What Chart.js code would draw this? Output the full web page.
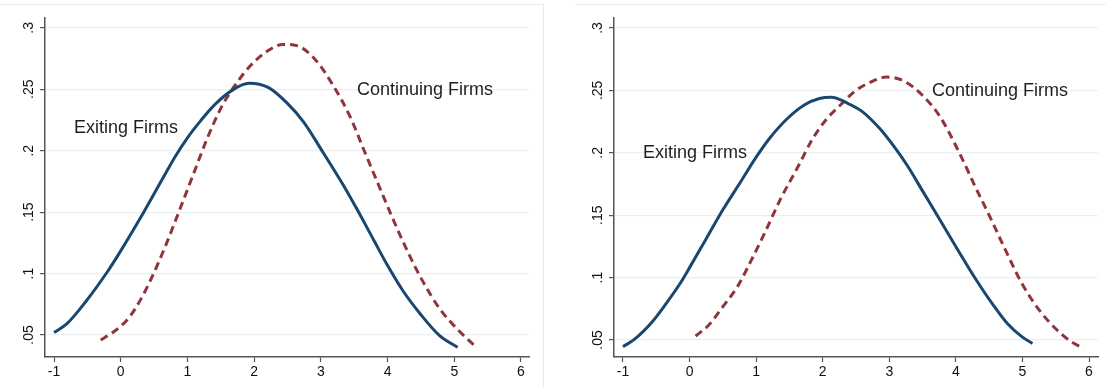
<!DOCTYPE html>
<html>
<head>
<meta charset="utf-8">
<script src="https://cdn.jsdelivr.net/npm/chart.js@4.4.1/dist/chart.umd.min.js"></script>
<style>
  html, body { margin: 0; padding: 0; background: #fff; }
  body { width: 1106px; height: 387px; position: relative; overflow: hidden; }
  #leftBox { position: absolute; left: 0; top: 0; width: 545px; height: 387px; }
  #rightBox { position: absolute; left: 555px; top: 0; width: 551px; height: 387px; }
  .frameTop { position: absolute; top: 4px; height: 1px; background: #e3ecef; }
  .frameSide { position: absolute; top: 4px; width: 1px; height: 383px; background: #e3ecef; }
</style>
</head>
<body>
<div class="frameTop" style="left:0;width:543px"></div>
<div class="frameSide" style="left:543px"></div>
<div class="frameTop" style="left:575px;width:531px"></div>
<div id="leftBox"><canvas id="leftChart" width="545" height="387"></canvas></div>
<div id="rightBox"><canvas id="rightChart" width="551" height="387"></canvas></div>
<script>
// tick values and labels
const xTicks = [-1, 0, 1, 2, 3, 4, 5, 6];
const yTicks = [0.05, 0.1, 0.15, 0.2, 0.25, 0.3];
const yTickLabels = ['.05', '.1', '.15', '.2', '.25', '.3'];

// left panel
const leftExitX = [-1, -0.81, -0.52, -0.2, 0, 0.34, 0.61, 0.82, 1.0, 1.2, 1.41, 1.68, 1.92, 2.21, 2.48, 2.74, 3.0, 3.32, 3.53, 3.8, 3.99, 4.23, 4.5, 4.78, 5.05];
const leftExitY = [0.052, 0.059, 0.0775, 0.1015, 0.1185, 0.1495, 0.1755, 0.1955, 0.2105, 0.2245, 0.2375, 0.2495, 0.2548, 0.2515, 0.2395, 0.2235, 0.2015, 0.1735, 0.1535, 0.1265, 0.1075, 0.086, 0.0665, 0.0495, 0.04];
const leftContX = [-0.3, -0.15, 0, 0.15, 0.3, 0.45, 0.66, 0.87, 1.09, 1.3, 1.51, 1.73, 1.95, 2.21, 2.43, 2.64, 2.91, 3.18, 3.44, 3.65, 3.87, 4.08, 4.3, 4.51, 4.78, 5.05, 5.31];
const leftContY = [0.046, 0.051, 0.057, 0.066, 0.079, 0.095, 0.121, 0.15, 0.181, 0.2105, 0.2355, 0.2545, 0.2695, 0.2815, 0.2865, 0.2855, 0.2745, 0.2535, 0.2275, 0.2, 0.1715, 0.1445, 0.118, 0.0955, 0.0715, 0.0545, 0.041];

// right panel
const rightExitX = [-1, -0.83, -0.56, -0.35, -0.14, 0, 0.24, 0.5, 0.77, 1.0, 1.2, 1.47, 1.73, 1.95, 2.13, 2.37, 2.59, 2.85, 3.07, 3.28, 3.49, 3.76, 4.03, 4.29, 4.56, 4.77, 4.99, 5.15];
const rightExitY = [0.0447, 0.0505, 0.0647, 0.0794, 0.0955, 0.108, 0.1302, 0.1543, 0.177, 0.1965, 0.2115, 0.2275, 0.2385, 0.2435, 0.2445, 0.2398, 0.2332, 0.2198, 0.2051, 0.189, 0.1703, 0.1463, 0.1222, 0.0995, 0.0781, 0.0634, 0.0527, 0.0473];
const rightContX = [0.09, 0.29, 0.5, 0.72, 0.93, 1.15, 1.36, 1.63, 1.84, 2.05, 2.27, 2.48, 2.69, 2.96, 3.23, 3.49, 3.76, 4.03, 4.29, 4.51, 4.72, 4.99, 5.25, 5.52, 5.73, 5.92];
const rightContY = [0.0532, 0.062, 0.0767, 0.0928, 0.1142, 0.1382, 0.1623, 0.189, 0.2104, 0.2265, 0.2385, 0.2492, 0.2559, 0.2607, 0.2572, 0.2465, 0.2291, 0.2024, 0.173, 0.1489, 0.1249, 0.0955, 0.0741, 0.058, 0.0487, 0.0433];

const exitLabel = 'Exiting Firms';
const contLabel = 'Continuing Firms';

const NAVY = '#1a476f';
const MAROON = '#90353b';
const GRID = '#eaf0f2';
const AXIS = '#555555';
const FONT = "'Liberation Sans', Arial, sans-serif";

const toPoints = (xs, ys) => xs.map((x, i) => ({ x: x, y: ys[i] }));

// text labels placed at data coordinates
const curveLabels = {
    id: 'curveLabels',
    afterDatasetsDraw(chart, args, opts) {
        const ctx = chart.ctx;
        const xs = chart.scales.x;
        const ys = chart.scales.y;
        ctx.save();
        ctx.font = '18px ' + FONT;
        ctx.fillStyle = '#1e1e1e';
        ctx.textAlign = 'left';
        ctx.textBaseline = 'middle';
        opts.items.forEach(item => {
            ctx.fillText(item.text, xs.getPixelForValue(item.x), ys.getPixelForValue(item.y));
        });
        ctx.restore();
    }
};

function makePanel(canvasId, exitX, exitY, contX, contY, range, items, yWidth, rightPad) {
    const config = {
        type: 'scatter',
        data: {
            datasets: [{
                label: exitLabel,
                data: toPoints(exitX, exitY),
                showLine: true,
                borderColor: NAVY,
                borderWidth: 3,
                pointRadius: 0,
                cubicInterpolationMode: 'monotone',
            }, {
                label: contLabel,
                data: toPoints(contX, contY),
                showLine: true,
                borderColor: MAROON,
                borderWidth: 3,
                borderDash: [8, 5],
                pointRadius: 0,
                cubicInterpolationMode: 'monotone',
            }]
        },
        options: {
            responsive: false,
            animation: false,
            layout: { padding: { left: 0, right: rightPad, top: 18, bottom: 0 } },
            scales: {
                x: {
                    type: 'linear',
                    min: range.xMin,
                    max: range.xMax,
                    afterBuildTicks: s => { s.ticks = xTicks.map(v => ({ value: v })); },
                    afterFit: s => { s.height = 30; },
                    grid: {
                        drawOnChartArea: false,
                        tickColor: AXIS,
                        tickLength: 5,
                        tickWidth: 1.2,
                    },
                    border: { color: AXIS, width: 1.5 },
                    ticks: {
                        color: '#111',
                        font: { family: FONT, size: 14 },
                        padding: 2,
                        maxRotation: 0,
                    }
                },
                y: {
                    type: 'linear',
                    min: range.yMin,
                    max: range.yMax,
                    afterBuildTicks: s => { s.ticks = yTicks.map(v => ({ value: v })); },
                    afterFit: s => { s.width = yWidth; },
                    grid: {
                        color: GRID,
                        lineWidth: 1.2,
                        tickColor: AXIS,
                        tickLength: 5,
                        tickWidth: 1.2,
                    },
                    border: { color: AXIS, width: 1.5 },
                    ticks: {
                        color: '#111',
                        font: { family: FONT, size: 14 },
                        minRotation: 90,
                        maxRotation: 90,
                        crossAlign: 'center',
                        padding: 1,
                        callback: function (value) {
                            const i = yTicks.indexOf(value);
                            return i >= 0 ? yTickLabels[i] : '';
                        }
                    }
                }
            },
            plugins: {
                legend: { display: false },
                tooltip: { enabled: false },
                curveLabels: { items: items },
            }
        },
        plugins: [curveLabels]
    };
    return new Chart(document.getElementById(canvasId), config);
}

makePanel('leftChart', leftExitX, leftExitY, leftContX, leftContY,
    { xMin: -1.135, xMax: 6.12, yMin: 0.0321, yMax: 0.308 },
    [{ text: exitLabel, x: -0.70, y: 0.2186 }, { text: contLabel, x: 3.54, y: 0.2495 }],
    45, 16);

makePanel('rightChart', rightExitX, rightExitY, rightContX, rightContY,
    { xMin: -1.135, xMax: 6.135, yMin: 0.0364, yMax: 0.308 },
    [{ text: exitLabel, x: -0.70, y: 0.1998 }, { text: contLabel, x: 3.64, y: 0.2495 }],
    59, 8);
</script>
</body>
</html>
